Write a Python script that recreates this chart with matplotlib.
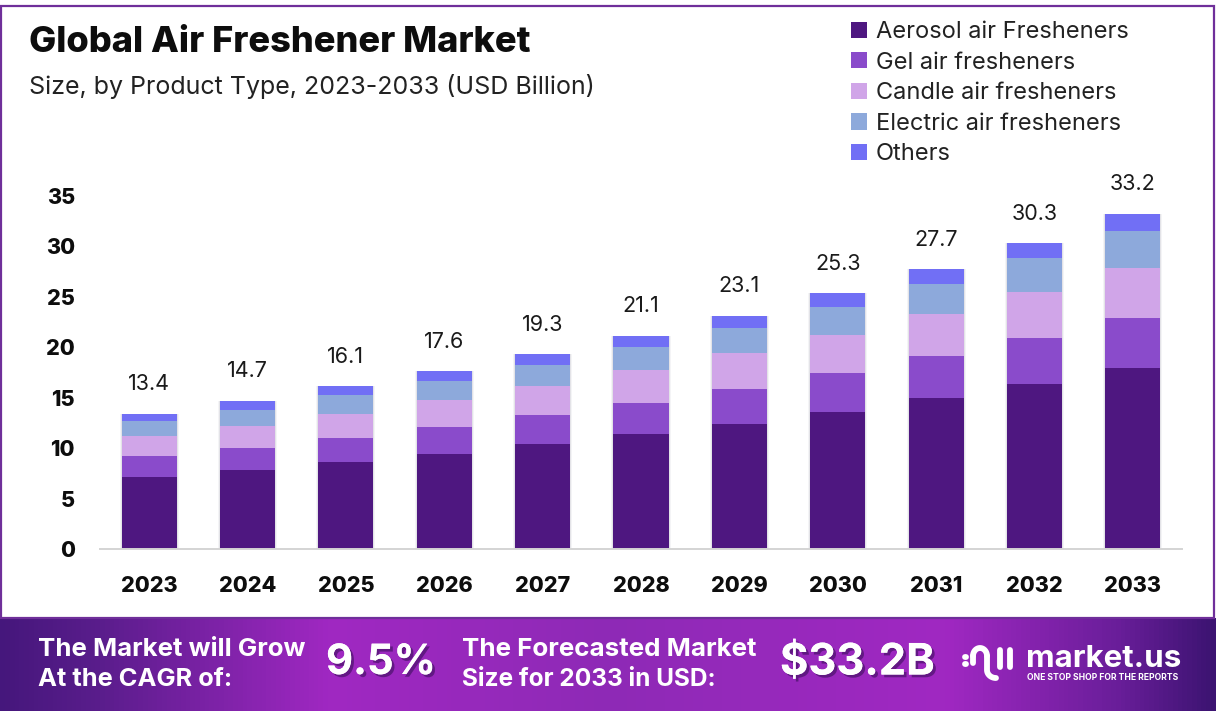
import numpy as np
import matplotlib
matplotlib.use("Agg")
import matplotlib.pyplot as plt
import matplotlib.patheffects as pe
from matplotlib.colors import LinearSegmentedColormap
from matplotlib.patches import Rectangle

years = ["2023","2024","2025","2026","2027","2028","2029","2030","2031","2032","2033"]
totals = [13.4,14.7,16.1,17.6,19.3,21.1,23.1,25.3,27.7,30.3,33.2]
aerosol = [7.1,7.8,8.6,9.4,10.4,11.4,12.4,13.6,15.0,16.3,17.9]
gel = [2.1,2.2,2.4,2.7,2.9,3.1,3.4,3.8,4.1,4.6,5.0]
candle = [2.0,2.2,2.4,2.7,2.8,3.2,3.6,3.8,4.2,4.5,4.9]
electric = [1.5,1.6,1.8,1.8,2.1,2.3,2.5,2.8,2.9,3.4,3.7]
others = [0.7,0.9,0.9,1.0,1.1,1.1,1.2,1.3,1.5,1.5,1.7]
series_names = ["Aerosol air Fresheners","Gel air fresheners","Candle air fresheners","Electric air fresheners","Others"]
series_values = [aerosol,gel,candle,electric,others]
series_colors = ["#4E1780","#8A4BCB","#D0A5E8","#8DA9DB","#716FF5"]
yticks = [0,5,10,15,20,25,30,35]

W,H = 1216,726
fig = plt.figure(figsize=(W/100,H/100),dpi=100,facecolor="white")
plt.rcParams['font.family'] = ['Inter','DejaVu Sans']
def rect(x0,ytop,x1,ybot):
    return [x0/W,1-ybot/H,(x1-x0)/W,(ybot-ytop)/H]

# page frame
fig.add_artist(Rectangle((1/W,1-618/H),1213/W,612/H,transform=fig.transFigure,fill=False,ec="#6F2F9A",lw=1.6))

# chart
ax = fig.add_axes(rect(100,195.5,1182,549))
ax.set_facecolor("none")
x = np.arange(len(years))
for w,a in [(0.60,0.07),(0.58,0.12)]:
    ax.bar(x,totals,width=w,color="#707080",alpha=a,zorder=1)
bottom = np.zeros(len(years))
for name,vals,col in zip(series_names,series_values,series_colors):
    ax.bar(x,vals,bottom=bottom,width=0.56,color=col,label=name,zorder=2)
    bottom += np.array(vals)
for xi,top,t in zip(x,bottom,totals):
    ax.annotate(f"{t:.1f}",(xi,top),xytext=(0,21.2),textcoords="offset points",ha="center",va="center",fontsize=15.5,color="#1a1a1a")
ax.set_xlim(-0.5,10.5); ax.set_ylim(0,35)
ax.set_xticks(x,years); ax.set_yticks(yticks)
ax.tick_params(length=0)
ax.tick_params(axis='x',pad=19.5); ax.tick_params(axis='y',pad=18)
for lb in ax.get_xticklabels()+ax.get_yticklabels():
    lb.set_fontweight(800); lb.set_fontsize(15.5); lb.set_color("#0d0d0d")
for s in ["top","left","right"]:
    ax.spines[s].set_visible(False)
ax.spines["bottom"].set_color("#d4d4d4"); ax.spines["bottom"].set_linewidth(1.4)

leg = ax.legend(loc="upper left",bbox_to_anchor=(851/W,1-21/H),bbox_transform=fig.transFigure,frameon=False,
    fontsize=17,handlelength=0.68,handleheight=0.68,handletextpad=0.36,labelspacing=0.365,borderpad=0,borderaxespad=0,labelcolor="#222222")

fig.text(29/W,1-43/H,"Global Air Freshener Market",fontsize=26.1,fontweight=800,color="#0d0d0d",va="center")
fig.text(29/W,1-86.5/H,"Size, by Product Type, 2023-2033 (USD Billion)",fontsize=18,color="#222222",va="center")

# banner
cmap = LinearSegmentedColormap.from_list("b",[(0,"#45177C"),(0.08,"#5A1D8C"),(0.27,"#A028C2"),(0.5,"#8E2AB6"),(0.78,"#A028C2"),(0.92,"#6A1E9A"),(1,"#3C1472")])
bax = fig.add_axes(rect(0,618,W,711))
bax.imshow(np.linspace(0,1,W)[None,:],cmap=cmap,aspect="auto",extent=(0,W,711,618))
bax.axis("off")
def btxt(px,py,s,size,shadow=False,**kw):
    t = bax.text(px,py,s,color="white",fontsize=size,fontweight="bold",va="center",**kw)
    if shadow:
        t.set_path_effects([pe.withSimplePatchShadow(offset=(2,-2),shadow_rgbFace="#2a0a4a",alpha=0.5),pe.Normal()])
btxt(38,650,"The Market will Grow",18.6)
btxt(38,680,"At the CAGR of:",18.3)
btxt(326,663,"9.5%",30,True)
btxt(462,650,"The Forecasted Market",18.7)
btxt(462,680,"Size for 2033 in USD:",17.6)
btxt(780,663,"$33.2B",31.2,True)
btxt(1026,659,"market.us",22.5)
bax.text(1027,677,"ONE STOP SHOP FOR THE REPORTS",color="white",fontsize=6.2,fontweight="bold",va="center")
# logo glyph
kw = dict(color="white",lw=4.2,solid_capstyle="round")
t = np.linspace(np.pi,0,30)
bax.plot(980+7*np.cos(t),656-8*np.sin(t),**kw)
bax.plot([973,973],[656,663],**kw)
t2 = np.linspace(np.pi,np.pi/2,15)
bax.plot(np.r_[987,987,996+9*np.cos(t2)],np.r_[656,670,670+8*np.sin(t2)],**kw)
bax.plot([1000,1000],[650,667],**kw)
bax.plot([1010,1010],[650,667],**kw)
bax.plot([965,965.5],[657,657],**kw)
bax.plot([965,965.5],[664,664],**kw)
bax.set_xlim(0,W); bax.set_ylim(711,618)

fig.savefig("out.png",dpi=100,facecolor="white")
